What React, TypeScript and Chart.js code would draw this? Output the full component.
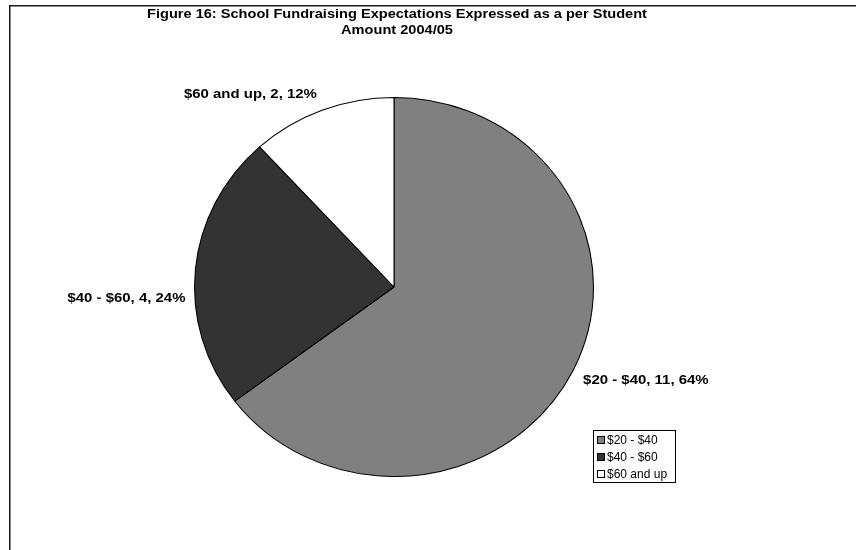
import React, { useEffect, useRef } from "react";
import { Chart, registerables } from "chart.js";

Chart.register(...registerables);

const titleLines = ["Figure 16: School Fundraising Expectations Expressed as a per Student", "Amount 2004/05"];
const categories = ["$20 - $40", "$40 - $60", "$60 and up"];
const counts = [11, 4, 2];
const percentLabels = ["64%", "24%", "12%"];
const sliceColors = ["#808080", "#333333", "#ffffff"];

const FONT = "'Liberation Sans', Arial, sans-serif";
const STRETCH_X = 200 / 190;

function stretchedText(ctx: any, text: string, x: number, y: number, align: string, sx: number) {
  ctx.save();
  ctx.translate(x, y);
  ctx.scale(sx, 1);
  ctx.textAlign = align;
  ctx.fillText(text, 0, 0);
  ctx.restore();
}

const decorPlugin = {
  id: "decor",
  beforeDraw(chart: any) {
    const ctx = chart.ctx;
    ctx.save();
    ctx.fillStyle = "#ffffff";
    ctx.fillRect(0, 0, chart.width, chart.height);
    ctx.strokeStyle = "#1a1a1a";
    ctx.lineWidth = 1.5;
    ctx.strokeRect(9.75, 5.75, 1000, 1000);
    ctx.restore();
  },
  beforeDatasetsDraw(chart: any) {
    const ctx = chart.ctx;
    const cx = (chart.chartArea.left + chart.chartArea.right) / 2;
    ctx.save();
    ctx.translate(cx, 0);
    ctx.scale(STRETCH_X, 1);
    ctx.translate(-cx, 0);
  },
  afterDatasetsDraw(chart: any) {
    chart.ctx.restore();
  },
  afterDraw(chart: any, _args: any, opts: any) {
    const ctx = chart.ctx;
    ctx.save();
    // title
    ctx.fillStyle = "#000";
    ctx.font = `bold 13.5px ${FONT}`;
    ctx.textBaseline = "middle";
    titleLines.forEach((t, i) => stretchedText(ctx, t, 397, 14 + i * 16.5, "center", 1.08));

    // data labels
    const meta = chart.getDatasetMeta(0);
    ctx.font = `bold 13px ${FONT}`;
    meta.data.forEach((arc: any, i: number) => {
      const p = arc.getProps(["x", "y", "startAngle", "endAngle", "outerRadius"], true);
      const mid = (p.startAngle + p.endAngle) / 2;
      const nudge = opts.nudge[i] || [0, 0];
      const x = p.x + Math.cos(mid) * (p.outerRadius * STRETCH_X + 14) + nudge[0];
      const y = p.y + Math.sin(mid) * (p.outerRadius + 14) + nudge[1];
      ctx.textBaseline = "middle";
      stretchedText(ctx, `${categories[i]}, ${counts[i]}, ${percentLabels[i]}`, x, y, Math.cos(mid) >= 0 ? "left" : "right", 1.15);
    });

    // legend
    const lx = 593.5, ly = 430.5, lw = 82, lh = 52;
    ctx.fillStyle = "#ffffff";
    ctx.fillRect(lx, ly, lw, lh);
    ctx.strokeStyle = "#000";
    ctx.lineWidth = 1;
    ctx.strokeRect(lx, ly, lw, lh);
    ctx.font = `12px ${FONT}`;
    ctx.textAlign = "left";
    ctx.textBaseline = "middle";
    categories.forEach((c, i) => {
      const cy = 440 + i * 17;
      ctx.fillStyle = sliceColors[i];
      ctx.fillRect(597.5, cy - 3.5, 7, 7);
      ctx.strokeStyle = "#000";
      ctx.strokeRect(597.5, cy - 3.5, 7, 7);
      ctx.fillStyle = "#000";
      ctx.fillText(c, 607, cy + 0.5);
    });
    ctx.restore();
  },
};

export default function App() {
  const ref = useRef<HTMLCanvasElement>(null);
  useEffect(() => {
    if (!ref.current) return;
    const chart = new Chart(ref.current, {
      type: "pie",
      data: {
        labels: categories,
        datasets: [
          {
            data: counts,
            backgroundColor: sliceColors,
            borderColor: "#000000",
            borderWidth: 1,
            borderAlign: "center",
          } as any,
        ],
      },
      options: {
        responsive: false,
        animation: false,
        devicePixelRatio: 1,
        layout: { padding: { left: 204, right: 272, top: 97, bottom: 73 } },
        plugins: {
          legend: { display: false },
          title: { display: false },
          tooltip: { enabled: false },
          decor: { nudge: [[-2, 3], [4, 30], [0, -3]] },
        } as any,
      },
      plugins: [decorPlugin],
    });
    return () => chart.destroy();
  }, []);
  return (
    <div style={{ position: "fixed", left: 0, top: 0, width: 856, height: 550, background: "#fff" }}>
      <canvas ref={ref} width={856} height={550} style={{ display: "block", width: 856, height: 550 }} />
    </div>
  );
}
